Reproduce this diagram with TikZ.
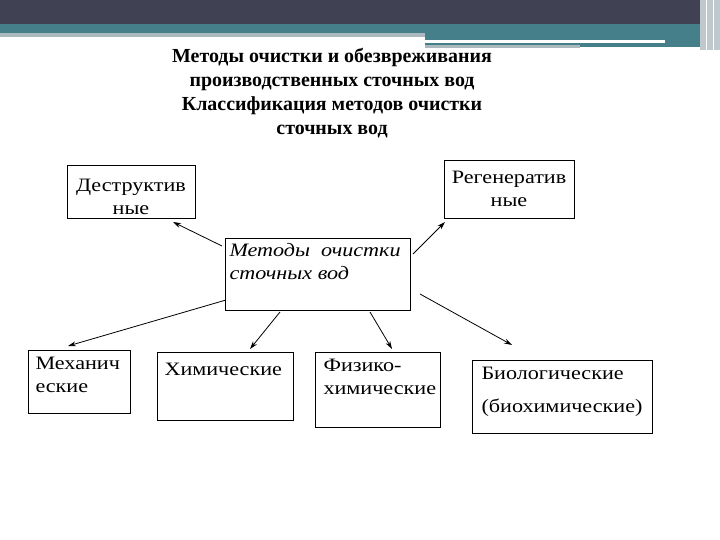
\documentclass[tikz,border=0pt]{standalone}
\usepackage{fontspec}
\setmainfont{Liberation Serif}
\newfontfamily\widefont[FakeStretch=1.17]{Liberation Serif}
\usetikzlibrary{arrows.meta}
\begin{document}
\begin{tikzpicture}[x=1bp,y=-1bp,
  txt/.style={font=\widefont\fontsize{19}{23}\selectfont,align=center},
  arr/.style={-{Stealth[length=8bp,width=5bp]},line width=0.8bp}]
\useasboundingbox (0,0) rectangle (720,540);
\fill[white] (0,0) rectangle (720,540);
% header
\fill[fill={rgb,255:red,64;green,66;blue,84}] (0,0) rectangle (720,24);
\fill[fill={rgb,255:red,69;green,128;blue,138}] (0,24) rectangle (720,33);
\fill[fill={rgb,255:red,69;green,128;blue,138}] (425,33) rectangle (705,47);
\fill[fill={rgb,255:red,170;green,185;blue,190}] (0,33) rectangle (425,37);
\fill[white] (425,40) rectangle (665,43);
\fill[fill={rgb,255:red,170;green,185;blue,190}] (425,45) rectangle (580,48);
\fill[fill={rgb,255:red,190;green,200;blue,205}] (700,0) rectangle (720,50);
\draw[white,line width=1bp] (706,0) -- (706,50) (713,0) -- (713,50);
% title
\node[font=\bfseries\fontsize{20}{24}\selectfont,align=center] (title) at (332,93)
 {Методы очистки и обезвреживания\\производственных сточных вод\\Классификация методов очистки\\сточных вод};
% boxes
\draw[line width=0.8bp] (67,165) rectangle (195,218);
\node[txt] (d) at (131,197) {Деструктив\\ные};
\draw[line width=0.8bp] (444,160) rectangle (574,218);
\node[txt] (r) at (509,189) {Регенератив\\ные};
\draw[line width=0.8bp] (225,238) rectangle (410,310);
\node[txt,font=\widefont\itshape\fontsize{19}{23}\selectfont,align=left,anchor=north west] (c) at (226,240) {Методы\ \ очистки\\сточных вод};
\draw[line width=0.8bp] (28,350) rectangle (130,413);
\node[txt,align=left,anchor=north west] (m) at (32,354) {Механич\\еские};
\draw[line width=0.8bp] (157,352) rectangle (293,420);
\node[txt,align=left,anchor=north west] (h) at (161,360) {Химические};
\draw[line width=0.8bp] (315,352) rectangle (440,427);
\node[txt,align=left,anchor=north west] (f) at (320,356) {Физико-\\химические};
\draw[line width=0.8bp] (472,360) rectangle (652,433);
\node[txt,align=left,anchor=north west,font=\widefont\fontsize{19}{33}\selectfont] (b) at (478,364) {Биологические\\(биохимические)};
% arrows
\coordinate (c1) at (222,246); \coordinate (d1) at (173,222);
\coordinate (c2) at (413,254); \coordinate (r1) at (445,222);
\coordinate (c3) at (226,300); \coordinate (m1) at (68,346);
\coordinate (c4) at (280,312); \coordinate (h1) at (250,349);
\coordinate (c5) at (370,312); \coordinate (f1) at (392,349);
\coordinate (c6) at (420,294); \coordinate (b1) at (512,345);
\draw[arr] (c1) -- (d1);
\draw[arr] (c2) -- (r1);
\draw[arr] (c3) -- (m1);
\draw[arr] (c4) -- (h1);
\draw[arr] (c5) -- (f1);
\draw[arr] (c6) -- (b1);
\end{tikzpicture}
\end{document}
